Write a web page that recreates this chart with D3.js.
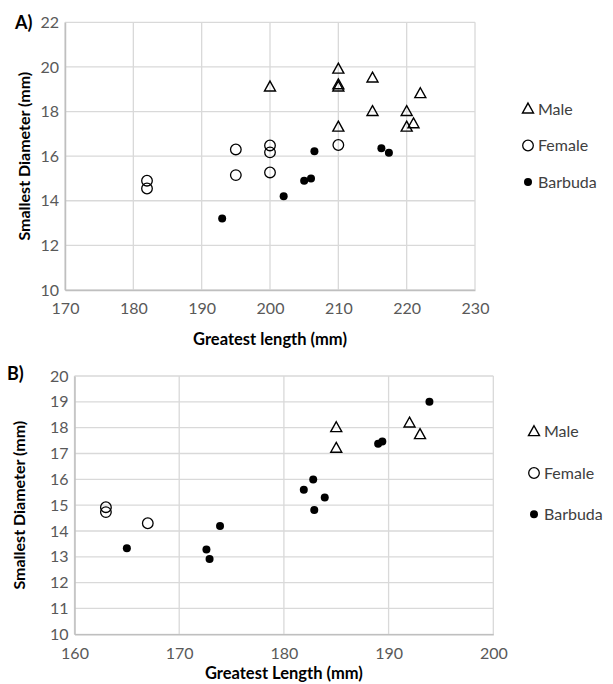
<!DOCTYPE html>
<html><head><meta charset="utf-8">
<script src="https://cdn.jsdelivr.net/npm/d3@7/dist/d3.min.js"></script>
<style>body{margin:0;background:#fff}svg{display:block}text{font-family:Lato,"Open Sans",sans-serif}</style>
</head><body>
<script>
// Panel A data
const aMale = [[200,19.1],[210,19.9],[210,19.2],[210,19.1],[215,19.5],[222,18.8],[215,18.0],[220,18.0],[210,17.3],[220,17.3],[221,17.45]];
const aFemale = [[182,14.9],[182,14.55],[195,16.3],[195,15.15],[200,16.48],[200,16.17],[200,15.27],[210,16.5]];
const aBarbuda = [[193,13.2],[202,14.2],[205,14.9],[206,15.0],[206.5,16.22],[216.3,16.35],[217.4,16.15]];
const aXTicks = [170,180,190,200,210,220,230];
const aYTicks = [10,12,14,16,18,20,22];
// Panel B data
const bMale = [[185,18.0],[185,17.2],[192,18.18],[193,17.73]];
const bFemale = [[163,14.92],[163,14.73],[167,14.3]];
const bBarbuda = [[165,13.33],[172.6,13.28],[172.9,12.92],[173.9,14.19],[181.9,15.6],[182.8,15.99],[182.9,14.81],[183.9,15.3],[189.0,17.38],[189.4,17.46],[193.9,19.0]];
const bXTicks = [160,170,180,190,200];
const bYTicks = [10,11,12,13,14,15,16,17,18,19,20];
const legendLabels = ["Male","Female","Barbuda"];

const svg = d3.select("body").append("svg").attr("width",613).attr("height",684);

function triPath(s){ const h=s*0.9; return `M0,${-h*0.6}L${s/2},${h*0.4}L${-s/2},${h*0.4}Z`; }

function panel(o){
  const x = d3.scaleLinear().domain(o.xd).range(o.xr);
  const y = d3.scaleLinear().domain(o.yd).range(o.yr);
  const g = svg.append("g");
  // grid
  g.append("g").selectAll("line").data(o.xt).join("line")
    .attr("x1",d=>x(d)).attr("x2",d=>x(d)).attr("y1",o.yr[0]).attr("y2",o.yr[1])
    .attr("stroke","#d9d9d9").attr("stroke-width",1.3);
  g.append("g").selectAll("line").data(o.yt).join("line")
    .attr("x1",o.xr[0]).attr("x2",o.xr[1]).attr("y1",d=>y(d)).attr("y2",d=>y(d))
    .attr("stroke","#d9d9d9").attr("stroke-width",1.3);
  // axes
  const xa = g.append("g").attr("transform",`translate(0,${o.yr[0]})`)
    .call(d3.axisBottom(x).tickValues(o.xt).tickSize(0).tickPadding(13).tickFormat(d3.format("d")));
  const ya = g.append("g").attr("transform",`translate(${o.xr[0]},0)`)
    .call(d3.axisLeft(y).tickValues(o.yt).tickSize(0).tickPadding(6).tickFormat(d3.format("d")));
  [xa,ya].forEach(a=>{a.select(".domain").attr("stroke","#bfbfbf").attr("stroke-width",1.5);
    a.selectAll("text").attr("fill","#595959").style("font-size","16px").style("font-family","Lato");});
  // marks
  g.append("g").selectAll("path").data(o.male).join("path")
    .attr("d",triPath(11)).attr("transform",d=>`translate(${x(d[0])},${y(d[1])})`)
    .attr("fill","none").attr("stroke","#000").attr("stroke-width",1.4);
  g.append("g").selectAll("circle").data(o.female).join("circle")
    .attr("cx",d=>x(d[0])).attr("cy",d=>y(d[1])).attr("r",5.3)
    .attr("fill","none").attr("stroke","#000").attr("stroke-width",1.3);
  g.append("g").selectAll("circle").data(o.barb).join("circle")
    .attr("cx",d=>x(d[0])).attr("cy",d=>y(d[1])).attr("r",4)
    .attr("fill","#000");
  // titles
  g.append("text").attr("x",(o.xr[0]+o.xr[1])/2).attr("y",o.xTitleY).attr("text-anchor","middle")
    .style("font-size","16.5px").style("font-weight","bold").attr("fill","#000").text(o.xTitle);
  g.append("text").attr("transform",`translate(${o.yTitleX},${(o.yr[0]+o.yr[1])/2}) rotate(-90)`)
    .attr("text-anchor","middle").style("font-size","16px").style("font-weight","bold").attr("fill","#000").text(o.yTitle);
  g.append("text").attr("x",o.lab[0]).attr("y",o.lab[1]).style("font-size","18px").style("font-weight","bold").text(o.label);
  // legend
  const lg = g.append("g").selectAll("g").data(legendLabels).join("g")
    .attr("transform",(d,i)=>`translate(${o.leg[0]},${o.leg[1]+i*o.leg[2]})`);
  lg.each(function(d,i){
    const s=d3.select(this);
    if(i===0) s.append("path").attr("d",triPath(11)).attr("fill","none").attr("stroke","#000").attr("stroke-width",1.4);
    else if(i===1) s.append("circle").attr("r",5.3).attr("fill","none").attr("stroke","#000").attr("stroke-width",1.3);
    else s.append("circle").attr("r",4).attr("fill","#000");
  });
  lg.append("text").attr("x",10).attr("y",5.5).style("font-size","16px").attr("fill","#404040").text(d=>d);
}

panel({xd:[170,230],xr:[65,475],yd:[10,22],yr:[290,22.3],xt:aXTicks,yt:aYTicks,
  male:aMale,female:aFemale,barb:aBarbuda,xTitle:"Greatest length (mm)",xTitleY:345,
  yTitle:"Smallest Diameter (mm)",yTitleX:30,label:"A)",lab:[15,29],leg:[528,109,36.5]});
panel({xd:[160,200],xr:[74.5,493.3],yd:[10,20],yr:[634.3,376],xt:bXTicks,yt:bYTicks,
  male:bMale,female:bFemale,barb:bBarbuda,xTitle:"Greatest Length (mm)",xTitleY:679,
  yTitle:"Smallest Diameter (mm)",yTitleX:25,label:"B)",lab:[7,380],leg:[534,431.7,41.3]});
</script>
</body></html>
